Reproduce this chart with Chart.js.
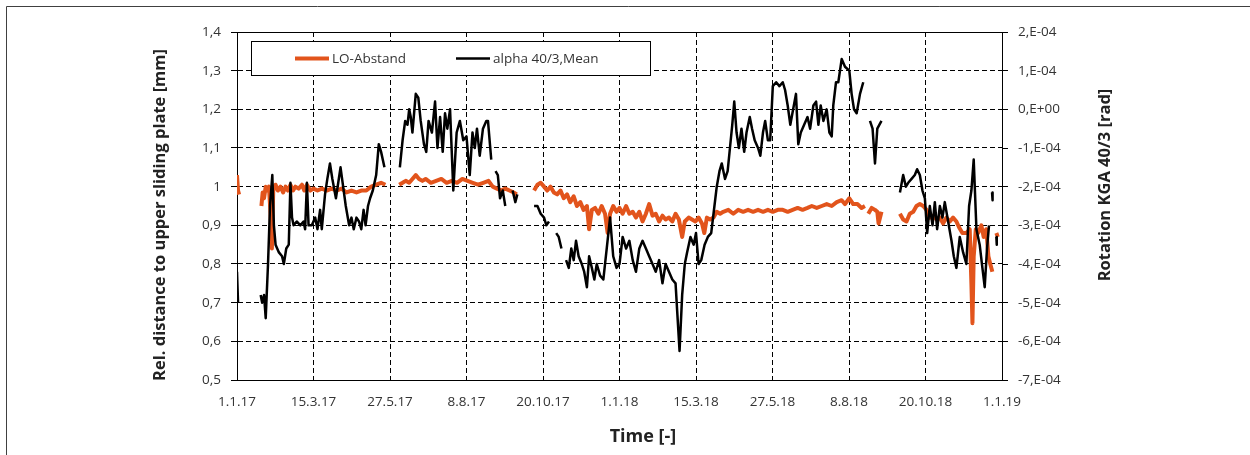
<!DOCTYPE html>
<html>
<head>
<meta charset="utf-8">
<script src="https://cdn.jsdelivr.net/npm/chart.js@4.4.1/dist/chart.umd.min.js"></script>
<style>
html, body { margin: 0; padding: 0; background: #fff; }
</style>
</head>
<body>
<canvas id="myChart" width="1250" height="455"></canvas>
<script>
// x axis: days since 1.1.17, one tick every 73 days
var tickLabels = ["1.1.17", "15.3.17", "27.5.17", "8.8.17", "20.10.17", "1.1.18", "15.3.18", "27.5.18", "8.8.18", "20.10.18", "1.1.19"];

// LO-Abstand [mm], left axis (null = gap in measurement)
var loDays = [0, 1, 2, 12,
	23.3, 24.5, 25.8, 27.4, 29, 30.5, 32, 33.3, 34.6, 36.8, 39, 41.5, 44, 46.3, 48.5, 51, 53.5, 55.7, 58.8, 62, 64.2, 66.7, 69.9, 73, 76.8, 81, 85.6, 90.3, 95, 99.7, 104.5, 109.2, 114, 118.6, 123.4, 128, 132.8, 137.5, 141.6, 148,
	154.8, 158, 161, 164.3, 167.4, 170.6, 173.7, 176.9, 180, 185, 190, 195, 200, 205, 210, 215, 220, 225, 230, 235, 240, 244, 248, 252, 256, 260, 264, 267, 275,
	283.5, 286.7, 289.8, 293, 296, 299.2, 302.4, 305.5, 308.7, 311.8, 315, 318, 321.3, 324.4, 327.6, 330.7, 333.9, 336, 338.6, 341.7, 344.9, 348, 351.2, 353.7, 356, 359, 362.2, 365, 368, 371.3, 374.4, 377.6, 380.7, 383.9, 387, 390.2, 393.3, 396.5, 399.6, 402.8, 406, 409, 412.2, 415.4, 418.5, 421.7, 424.8, 427.3, 431, 434.2, 437.4, 440.5, 443.7, 445.9, 448.4, 451.5, 454.7, 457.8, 461, 464, 468.8, 473.6, 478.3, 483, 487.7, 492.5, 497.2, 502, 506.6, 511.3, 516, 520.8, 525.5, 530.2, 535, 539.7, 544.4, 548.5, 553.2, 558, 562.7, 567.5, 572.3, 577, 580.2, 584.3, 588, 592, 596, 599.2, 601,
	602.4, 605.6, 608.8, 611, 612.2, 615, 620,
	632.6, 635.7, 638.9, 642, 645.3, 648.4, 651.6, 654.8, 658, 661.1, 664.3, 667.5, 670.7, 673.8, 677, 680.2, 683.3, 686.5, 689, 692.2, 696, 699.2, 700.8, 701.8, 703, 705, 707.2, 710.3, 712.5, 715, 717, 718.8, 720.8, 722.5,
	724.6, 726];
var loValues = [1.03, 0.99, 0.98, null,
	0.95, 0.985, 0.97, 1.0, 0.99, 1.0, 0.93, 0.84, 0.99, 1.005, 0.99, 1.0, 0.985, 1.0, 0.99, 1.005, 0.99, 1.0, 0.995, 1.005, 0.99, 1.005, 0.99, 0.995, 0.99, 0.995, 0.99, 0.995, 0.99, 0.995, 0.985, 0.99, 0.985, 0.99, 0.99, 1.0, 1.005, 1.01, 1.005, null,
	1.005, 1.01, 1.015, 1.01, 1.02, 1.03, 1.02, 1.015, 1.02, 1.01, 1.015, 1.02, 1.01, 1.015, 1.01, 1.02, 1.015, 1.01, 1.005, 1.01, 1.015, 1.0, 0.995, 0.99, 0.995, 0.99, 0.985, 0.98, null,
	0.99, 1.005, 1.01, 1.0, 0.99, 1.0, 0.985, 0.98, 0.99, 0.97, 0.98, 0.96, 0.975, 0.95, 0.96, 0.94, 0.95, 0.89, 0.94, 0.945, 0.93, 0.95, 0.93, 0.88, 0.93, 0.95, 0.935, 0.945, 0.93, 0.95, 0.93, 0.935, 0.92, 0.935, 0.91, 0.93, 0.955, 0.925, 0.93, 0.91, 0.925, 0.915, 0.92, 0.91, 0.93, 0.915, 0.87, 0.91, 0.92, 0.915, 0.91, 0.92, 0.905, 0.88, 0.92, 0.915, 0.92, 0.935, 0.93, 0.935, 0.94, 0.93, 0.94, 0.935, 0.94, 0.935, 0.94, 0.935, 0.94, 0.935, 0.94, 0.94, 0.935, 0.94, 0.945, 0.94, 0.945, 0.95, 0.945, 0.95, 0.955, 0.95, 0.96, 0.965, 0.955, 0.97, 0.955, 0.955, 0.945, 0.95, null,
	0.93, 0.945, 0.94, 0.935, 0.905, 0.935, null,
	0.93, 0.915, 0.91, 0.93, 0.935, 0.95, 0.955, 0.95, 0.94, 0.92, 0.925, 0.915, 0.92, 0.905, 0.92, 0.91, 0.92, 0.91, 0.895, 0.88, 0.88, 0.89, 0.75, 0.647, 0.82, 0.89, 0.88, 0.9, 0.87, 0.89, 0.82, 0.80, 0.78, null,
	0.88, 0.87];

// alpha 40/3, Mean, right axis, in units of 1E-04 rad
var alphaDays = [0, 1, 10,
	22.6, 24, 25.8, 27.4, 29.6, 31.5, 33.7, 35.2, 36.8, 40, 43, 44.7, 47, 49.4, 51, 52.5, 54, 57, 60.4, 63.5, 65, 66.7, 68.3, 71.4, 74.6, 76.8, 79.3, 80.9, 84, 86.2, 88.7, 91, 94.4, 96.6, 98.8, 101.3, 103.8, 107, 109.2, 111.4, 114, 116.4, 118.6, 120.8, 122.7, 125, 127, 129.6, 132.8, 135.3, 137.5, 140.7, 148,
	155.4, 158, 160.5, 162.7, 164.3, 165.8, 167.4, 169, 170.6, 173, 175.3, 178.4, 180.6, 182.8, 186, 189, 191.3, 193.8, 196.3, 198.5, 200.7, 203.3, 206.4, 209.6, 212.7, 215.9, 219, 222.1, 224.7, 226.9, 229, 231.6, 234.7, 237.9, 239.5, 242.6, 244.5,
	246.7, 248.9, 251, 253.6, 256, 259,
	263, 265.6, 267.5, 275,
	283.5, 286.7, 289.8, 293, 295.2, 297.7, 301,
	304.6, 307, 309.6, 312,
	314, 316.6, 319, 321.3, 323.5, 326, 329, 331.3, 333.9, 336, 338.6, 341, 343.3, 346.5, 349.6, 352.8, 356, 359, 362.2, 365, 368, 371.3, 374.4, 377.6, 380.7, 383.9, 387, 390.2, 393.3, 396.5, 399.6, 402.8, 406, 409, 412.2, 415.4, 418.5, 420, 422.3, 424.8, 427.3, 429.5, 432.7, 435.8, 438, 440.5, 443, 446.2, 449.3, 452.5, 455.6, 457.8, 460.4, 462.6, 465.7, 468.2, 470.4, 472.6, 474.5, 476.7, 478.9, 481.4, 484, 486.2, 489.3, 491.5, 494, 497.2, 499.4, 501.9, 504, 506.6, 508.8, 511.3, 514.5, 517.6, 520.8, 523, 525.5, 528, 530, 533.4, 535.6, 538, 541.2, 544.4, 546.9, 550, 552.6, 554.8, 557, 559.6, 562.7, 565.3, 567.5, 569, 571.6, 573.8, 577, 580.2, 584.3, 586.5, 588.8, 591.3, 594.5, 597.6, 601,
	604, 606.5, 608.8, 611, 615, 620,
	632.6, 635.7, 638.3, 640.5, 643.7, 646.8, 649, 651.6, 654.1, 656.4, 658.6, 661.1, 663.7, 665.9, 668.1, 670.7, 673.2, 675.4, 678.6, 681.8, 684, 686.5, 689.7, 692.9, 696, 698.6, 700.8, 703, 705.6, 708.7, 711.3, 713.5, 715.7, 717.6, 719,
	720.5, 721, 723,
	724.6, 725];
var alphaE4 = [-4.2, -5.0, null,
	-4.8, -5.0, -4.8, -5.4, -4.0, -2.5, -1.7, -3.0, -3.5, -3.7, -3.8, -4.0, -3.6, -3.5, -1.9, -2.8, -3.0, -2.9, -3.0, -2.9, -3.1, -1.9, -3.0, -3.0, -2.8, -3.1, -2.6, -3.1, -2.2, -1.8, -1.4, -1.8, -2.3, -1.9, -1.5, -2.0, -2.5, -3.0, -2.8, -3.1, -2.8, -2.9, -3.1, -2.6, -3.0, -2.5, -2.3, -2.1, -1.7, -0.9, -1.1, -1.5, null,
	-1.5, -0.8, -0.3, -0.4, 0.0, -0.2, -0.6, -0.1, 0.4, 0.3, -0.3, -0.9, -1.1, -0.3, -0.6, 0.2, -1.0, -0.2, -1.1, -0.1, -0.5, 0.0, -2.1, -0.6, -0.3, -0.8, -0.7, -1.7, -0.6, -1.0, -0.5, -1.2, -0.5, -0.3, -0.3, -1.3, null,
	-1.6, -1.7, -2.3, -2.1, -2.5, null,
	-2.1, -2.4, -2.2, null,
	-2.5, -2.5, -2.7, -2.8, -3.0, -2.9, null,
	-3.2, -3.3, -3.6, null,
	-3.9, -4.1, -3.6, -3.9, -3.4, -3.8, -4.0, -4.2, -4.6, -3.8, -4.1, -4.4, -4.0, -4.3, -4.4, -3.6, -2.8, -3.8, -4.1, -4.0, -3.3, -3.6, -3.4, -3.9, -4.2, -3.6, -3.4, -3.6, -3.8, -4.0, -4.2, -3.9, -4.5, -4.0, -4.2, -4.4, -4.5, -5.2, -6.25, -4.8, -4.0, -3.7, -3.3, -3.5, -3.2, -4.0, -3.9, -3.5, -3.3, -3.2, -2.5, -2.0, -1.6, -1.4, -1.8, -1.6, -1.0, -0.4, 0.2, -0.6, -1.0, -0.5, -1.1, -0.6, -0.2, -0.5, -0.8, -1.0, -1.2, -0.6, -0.3, -0.8, -0.8, 0.6, 0.7, 0.6, 0.7, 0.5, 0.1, -0.4, -0.1, 0.4, -0.9, -0.6, -0.4, -0.2, -0.5, 0.1, 0.2, -0.4, 0.1, -0.3, 0.0, -0.6, -0.7, 0.1, 0.7, 0.7, 1.3, 1.1, 1.0, 0.4, 0.0, -0.1, 0.4, 0.7, null,
	-0.3, -0.5, -1.4, -0.5, -0.3, null,
	-2.15, -1.7, -2.0, -1.9, -1.8, -1.7, -1.55, -1.7, -2.1, -2.3, -3.2, -2.5, -3.0, -2.4, -3.1, -2.5, -2.8, -2.4, -2.9, -3.4, -3.8, -4.1, -3.3, -3.7, -4.0, -2.5, -2.1, -1.3, -3.1, -3.5, -4.1, -4.6, -3.6, -3.0, null,
	-2.15, -2.35, null,
	-3.3, -3.5];

var seriesLabels = ["LO-Abstand", "alpha 40/3,Mean"];
var FONT = "'Open Sans', 'DejaVu Sans', sans-serif";

function toPoints(xs, ys, scale) {
	var pts = [];
	for (var i = 0; i < xs.length; i++) {
		pts.push({ x: xs[i], y: ys[i] === null ? null : ys[i] * scale });
	}
	return pts;
}

var decoPlugin = {
	id: "deco",
	beforeDraw: function(chart) {
		var c = chart.ctx;
		c.save();
		c.strokeStyle = "#404040";
		c.lineWidth = 1;
		c.beginPath();
		c.moveTo(6.5, 455);
		c.lineTo(6.5, 6.5);
		c.lineTo(1250, 6.5);
		c.stroke();
		c.restore();
	},
	beforeDatasetsDraw: function(chart) {
		var a = chart.chartArea, c = chart.ctx;
		c.save();
		c.strokeStyle = "#000";
		c.lineWidth = 1;
		c.strokeRect(Math.round(a.left) + 0.5, Math.round(a.top) + 0.5, Math.round(a.right - a.left), Math.round(a.bottom - a.top));
		c.restore();
	},
	afterDatasetsDraw: function(chart) {
		var c = chart.ctx;
		c.save();
		c.fillStyle = "#fff";
		c.fillRect(251, 41, 399, 34);
		c.strokeStyle = "#000";
		c.lineWidth = 1;
		c.strokeRect(251.5, 41.5, 399, 34);
		var ds = chart.data.datasets;
		c.lineWidth = 4;
		c.strokeStyle = ds[1].borderColor;
		c.beginPath(); c.moveTo(295, 58.5); c.lineTo(329, 58.5); c.stroke();
		c.lineWidth = 2.5;
		c.strokeStyle = ds[0].borderColor;
		c.beginPath(); c.moveTo(456, 58.5); c.lineTo(490, 58.5); c.stroke();
		c.fillStyle = "#333";
		c.font = "13.5px " + FONT;
		c.textBaseline = "middle";
		c.fillText(ds[1].label, 332, 59);
		c.fillText(ds[0].label, 493, 59);
		c.restore();
	},
	afterDraw: function(chart) {
		var c = chart.ctx;
		c.save();
		c.fillStyle = "#222";
		c.textAlign = "center";
		c.textBaseline = "middle";
		c.font = "bold 16.5px " + FONT;
		c.save();
		c.translate(160, 215);
		c.rotate(-Math.PI / 2);
		c.fillText("Rel. distance to upper sliding plate [mm]", 0, 0);
		c.restore();
		c.save();
		c.translate(1105, 185);
		c.rotate(-Math.PI / 2);
		c.fillText("Rotation KGA 40/3 [rad]", 0, 0);
		c.restore();
		c.font = "bold 18px " + FONT;
		c.fillText("Time [-]", 643, 437);
		c.restore();
	}
};

var ctx = document.getElementById("myChart");

var myChart = new Chart(ctx, {
	type: "line",
	data: {
		datasets: [
			{
				label: seriesLabels[1],
				data: toPoints(alphaDays, alphaE4, 1e-4),
				yAxisID: "y1",
				borderColor: "#000000",
				backgroundColor: "#000000",
				borderWidth: 2.5,
				borderJoinStyle: "round",
				pointRadius: 0,
				tension: 0,
				fill: false,
				spanGaps: false,
				order: 0
			},
			{
				label: seriesLabels[0],
				data: toPoints(loDays, loValues, 1),
				yAxisID: "y",
				borderColor: "#E2541C",
				backgroundColor: "#E2541C",
				borderWidth: 4,
				borderJoinStyle: "round",
				pointRadius: 0,
				tension: 0,
				fill: false,
				spanGaps: false,
				order: 1
			}
		]
	},
	options: {
		responsive: false,
		animation: false,
		events: [],
		layout: { padding: { top: 32, left: 0, right: 0, bottom: 0 } },
		plugins: { legend: { display: false }, tooltip: { enabled: false } },
		scales: {
			x: {
				type: "linear",
				min: 0,
				max: 730,
				afterFit: function(s) { s.height = 75; },
				grid: { color: "#000", lineWidth: 1, drawTicks: false },
				border: { display: true, color: "#000", dash: [5, 3] },
				ticks: {
					stepSize: 73,
					autoSkip: false,
					maxRotation: 0,
					padding: 14,
					color: "#333",
					font: { family: FONT, size: 13.5 },
					callback: function(v) { return tickLabels[Math.round(v / 73)]; }
				}
			},
			y: {
				position: "left",
				min: 0.5,
				max: 1.4,
				afterFit: function(s) { s.width = 237; },
				grid: { color: "#000", lineWidth: 1, tickLength: 6 },
				border: { display: true, color: "#000", dash: [5, 3] },
				ticks: {
					stepSize: 0.1,
					padding: 10,
					color: "#333",
					font: { family: FONT, size: 13.5 },
					callback: function(v) {
						if (Math.abs(v - 1) < 1e-9) return "1";
						return v.toFixed(1).replace(".", ",");
					}
				}
			},
			y1: {
				position: "right",
				min: -7e-4,
				max: 2e-4,
				afterFit: function(s) { s.width = 248; },
				grid: { drawOnChartArea: false, color: "#000", tickLength: 6 },
				border: { display: true, color: "#000" },
				ticks: {
					stepSize: 1e-4,
					padding: 10,
					color: "#333",
					font: { family: FONT, size: 13.5 },
					callback: function(v) {
						var n = Math.round(v * 1e4);
						return n === 0 ? "0,E+00" : n + ",E-04";
					}
				}
			}
		}
	},
	plugins: [decoPlugin]
});
</script>
</body>
</html>
